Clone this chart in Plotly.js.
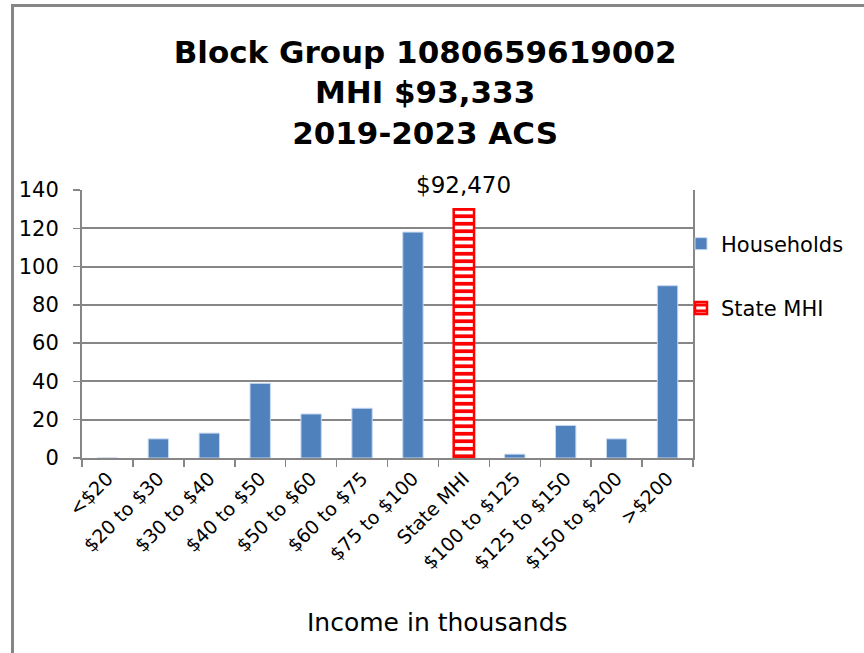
<!DOCTYPE html>
<html>
<head>
<meta charset="utf-8">
<script src="https://cdn.plot.ly/plotly-3.0.1.min.js"></script>
<style>html,body{margin:0;padding:0;background:#fff;}#chart{width:864px;height:653px;}</style>
</head>
<body>
<div id="chart"></div>
<script>
const categories = ["<$20", "$20 to $30", "$30 to $40", "$40 to $50", "$50 to $60", "$60 to $75", "$75 to $100", "State MHI", "$100 to $125", "$125 to $150", "$150 to $200", ">$200"];
const households = [0, 10, 13, 39, 23, 26, 118, null, 2, 17, 10, 90];
const stateCategory = ["State MHI"];
const stateValue = [130];
const stateLabel = "$92,470";
const titleLines = ["Block Group 1080659619002", "MHI $93,333", "2019-2023 ACS"];
const xTitle = "Income in thousands";
const yTicks = [0, 20, 40, 60, 80, 100, 120, 140];

const grid = "#868686";
const font = "DejaVu Sans, Verdana, sans-serif";

const traces = [
  {
    type: "bar", name: "Households", x: categories, y: households,
    legendgroup: "a",
    marker: {color: "#4F81BD", line: {color: "#C6D9F1", width: 1}},
    hoverinfo: "x+y"
  },
  {
    type: "bar", name: "State MHI", x: stateCategory, y: stateValue,
    legendgroup: "b",
    marker: {color: "#FFFFFF", line: {color: "#FF0000", width: 2.5},
      pattern: {shape: "-", fgcolor: "#FF0000", bgcolor: "#FFFFFF", size: 7.5, solidity: 0.5}},
    hoverinfo: "x+y"
  }
];

const layout = {
  width: 864, height: 653,
  margin: {l: 82, r: 171, t: 190, b: 195},
  paper_bgcolor: "#FFFFFF", plot_bgcolor: "#FFFFFF",
  font: {family: font, color: "#000000"},
  barmode: "overlay",
  bargap: 0.6,
  showlegend: true,
  title: {
    text: "<b>" + titleLines.join("<br>") + "</b>",
    font: {family: "DejaVu Sans, Verdana, sans-serif", size: 31, color: "#000"},
    x: 0.492, xanchor: "center", xref: "container",
    y: 1 - 63/653, yanchor: "top", yref: "container"
  },
  xaxis: {
    type: "category", categoryorder: "array", categoryarray: categories,
    tickangle: -45, tickfont: {size: 19, family: font},
    showline: true, linecolor: grid, linewidth: 2,
    ticks: "outside", tickson: "boundaries", ticklen: 7, tickcolor: grid, tickwidth: 1.5,
    showgrid: false, zeroline: false,
    automargin: false
  },
  yaxis: {
    range: [0, 140], tickvals: yTicks, ticktext: yTicks.map(String),
    tickfont: {size: 21, family: font},
    showgrid: true, gridcolor: grid, gridwidth: 2,
    showline: true, linecolor: grid, linewidth: 2, mirror: true,
    ticks: "outside", ticklen: 7, tickcolor: grid, tickwidth: 1.5,
    ticklabelstandoff: 10,
    zeroline: false, automargin: false
  },
  legend: {
    x: (681-82)/611, xanchor: "left", y: 0.875, yanchor: "top",
    font: {size: 21, family: font},
    traceorder: "grouped", tracegroupgap: 34,
    itemwidth: 30, bgcolor: "rgba(0,0,0,0)"
  },
  annotations: [
    {x: stateCategory[0], y: stateValue[0], xref: "x", yref: "y",
     text: stateLabel, showarrow: false, yanchor: "bottom", yshift: 9,
     font: {size: 23, family: font}},
    {x: (437-82)/611, y: (458-622)/268, xref: "paper", yref: "paper",
     text: xTitle, showarrow: false, xanchor: "center", yanchor: "middle",
     font: {size: 25, family: font}}
  ],
  shapes: [
    {type: "rect", xref: "paper", yref: "paper",
     x0: (11-82)/611, x1: (14-82)/611, y0: -1, y1: (458-4)/268,
     line: {width: 0}, fillcolor: grid, layer: "above"},
    {type: "rect", xref: "paper", yref: "paper",
     x0: (11-82)/611, x1: (870-82)/611, y0: (458-7)/268, y1: (458-4)/268,
     line: {width: 0}, fillcolor: grid, layer: "above"}
  ]
};

Plotly.newPlot("chart", traces, layout, {displayModeBar: false, staticPlot: true});
</script>
</body>
</html>
